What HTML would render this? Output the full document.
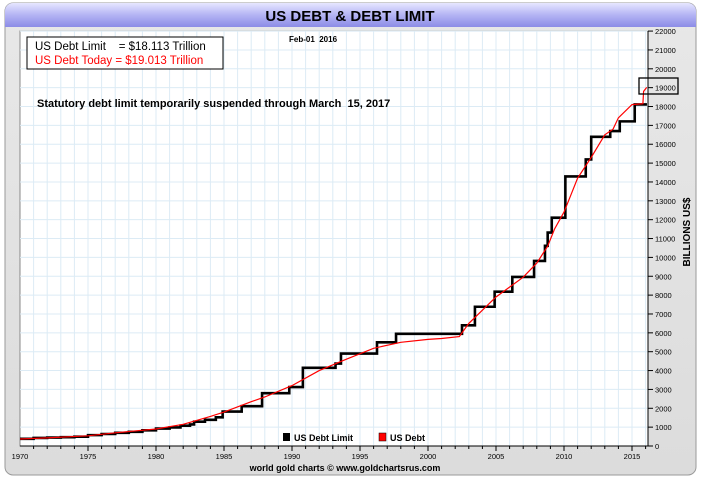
<!DOCTYPE html>
<html><head><meta charset="utf-8"><style>
body{margin:0;background:#fff;width:701px;height:478px;overflow:hidden}
svg{display:block;font-family:"Liberation Sans",Arial,sans-serif}
text{white-space:pre}
</style></head><body>
<svg id="s" width="701" height="478" viewBox="0 0 701 478">
<defs>
<linearGradient id="tb" x1="0" y1="0" x2="0" y2="1"><stop offset="0" stop-color="#e6e6ff"/><stop offset="0.5" stop-color="#b4b4f4"/><stop offset="1" stop-color="#8c8ce6"/></linearGradient>
<linearGradient id="bg" x1="0" y1="0" x2="0" y2="1"><stop offset="0" stop-color="#e8e8e8"/><stop offset="1" stop-color="#dcdcdc"/></linearGradient>
</defs>
<rect x="5" y="3" width="691" height="472" rx="8" fill="url(#bg)" stroke="#9a9a9a"/>
<path d="M5 27 V11 a8 8 0 0 1 8 -8 H688 a8 8 0 0 1 8 8 V27 Z" fill="url(#tb)"/>
<text x="350" y="21" font-size="15" font-weight="bold" text-anchor="middle">US DEBT &amp; DEBT LIMIT</text>
<rect x="20" y="31" width="628" height="415" fill="#fff" stroke="#888"/>
<g id="grid" stroke="#dcebf5" stroke-width="1"></g>
<g id="ax"></g>
<rect x="27" y="37" width="196" height="32" fill="#fff" stroke="#000"/>
<text x="35" y="50" font-size="11.5" fill="#000" xml:space="preserve">US Debt Limit    = $18.113 Trillion</text>
<text x="35" y="64" font-size="11.5" fill="#f00">US Debt Today = $19.013 Trillion</text>
<text x="313" y="42" font-size="8" font-weight="bold" text-anchor="middle" xml:space="preserve">Feb-01  2016</text>
<text x="37" y="107" font-size="11" font-weight="bold" xml:space="preserve">Statutory debt limit temporarily suspended through March  15, 2017</text>
<g id="series"></g>
<rect x="639" y="78" width="39" height="16" fill="none" stroke="#000" stroke-width="1.3"/>
<rect x="283" y="433" width="7" height="8" fill="#000"/>
<text x="294" y="441" font-size="9" font-weight="bold">US Debt Limit</text>
<rect x="379" y="433" width="7" height="8" fill="#f00" stroke="#000" stroke-width=".5"/>
<text x="390" y="441" font-size="9" font-weight="bold">US Debt</text>
<text x="690" y="232" font-size="10" font-weight="bold" text-anchor="middle" transform="rotate(-90 690 232)">BILLIONS US$</text>
<text x="345" y="471" font-size="9" font-weight="bold" text-anchor="middle">world gold charts © www.goldchartsrus.com</text>
</svg>
<script>
var X=function(y){return 20+(y-1970)*13.6},Y=function(v){return 446-v*0.01886};
var g=document.getElementById('grid'),ax=document.getElementById('ax'),h='',a='';
for(var yr=1971;yr<=2016;yr++){var x=X(yr);h+='<line x1="'+x+'" y1="31" x2="'+x+'" y2="446"/>';a+='<line x1="'+x+'" y1="446" x2="'+x+'" y2="'+(yr%5==0?451:449)+'" stroke="#000"/>';if(yr%5==0)a+='<text x="'+x+'" y="459" font-size="7.5" text-anchor="middle">'+yr+'</text>';}
a+='<text x="20" y="459" font-size="7.5" text-anchor="middle">1970</text>';
for(var v=1000;v<=22000;v+=1000){var y=Y(v);h+='<line x1="20" y1="'+y+'" x2="648" y2="'+y+'"/>';}
for(var v=0;v<=22000;v+=1000){var y=Y(v);a+='<line x1="648" y1="'+y+'" x2="653" y2="'+y+'" stroke="#000"/><text x="655" y="'+(y+3)+'" font-size="7.5">'+v+'</text>';}
a+='<line x1="648" y1="31" x2="648" y2="446" stroke="#000"/><line x1="20" y1="446" x2="648" y2="446" stroke="#000"/>';
g.innerHTML=h;ax.innerHTML=a;
var L=[[1970,380],[1971,430],[1972,450],[1973,465],[1974,495],[1975,577],[1976,636],[1977,700],[1978,752],[1979,830],[1980,925],[1981,985],[1981.8,1079],[1982.5,1143],[1982.8,1290],[1983.6,1389],[1984.4,1520],[1984.9,1824],[1986.3,2111],[1987.8,2800],[1989.8,3123],[1990.8,4145],[1993.2,4370],[1993.6,4900],[1996.25,5500],[1997.65,5950],[2002.5,6400],[2003.45,7384],[2004.9,8184],[2006.2,8965],[2007.8,9815],[2008.6,10615],[2008.8,11315],[2009.1,12104],[2010.1,14294],[2011.6,15194],[2012.0,16394],[2013.4,16699],[2014.1,17212],[2015.2,18113],[2016.1,18113]];
var p='M'+X(1970)+' '+Y(380);for(var i=1;i<L.length;i++){p+=' H'+X(L[i][0])+' V'+Y(L[i][1]);}
var D=[[1970,370],[1972,430],[1975,540],[1977,700],[1980,900],[1982,1150],[1984,1570],[1985,1800],[1987,2350],[1988,2600],[1990,3200],[1992,4000],[1994,4600],[1996,5180],[1998,5500],[2000,5650],[2001,5700],[2002.3,5800],[2003,6500],[2005,7900],[2007,8950],[2008,9700],[2008.8,10600],[2009.3,11500],[2010,12400],[2010.5,13300],[2011,14200],[2012,15300],[2013,16500],[2013.6,16800],[2014,17400],[2015,18100],[2015.8,18150],[2015.85,18800],[2016.08,19013]];
var q='';for(var i=0;i<D.length;i++){q+=(i?' L':'M')+X(D[i][0]).toFixed(1)+' '+Y(D[i][1]).toFixed(1);}
document.getElementById('series').innerHTML='<path d="'+p+'" fill="none" stroke="#000" stroke-width="2.6"/><path d="'+q+'" fill="none" stroke="#f00" stroke-width="1.2"/>';
</script>
</body></html>
